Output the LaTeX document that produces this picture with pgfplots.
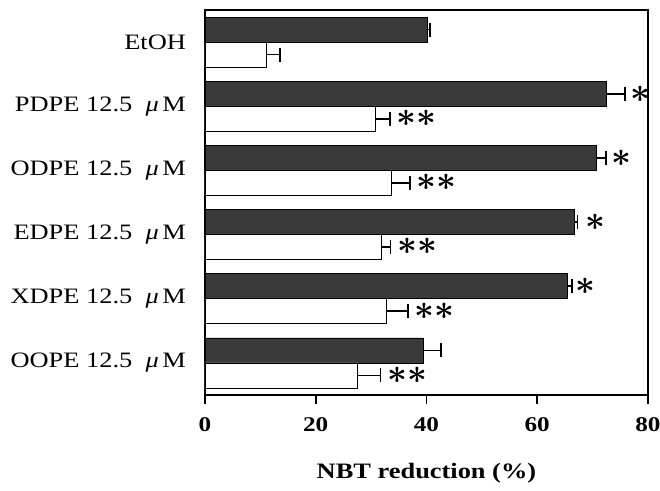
\documentclass[border=0pt]{standalone}
\usepackage{fontspec}
\setmainfont[FakeStretch=1.2]{Liberation Serif}
\usepackage{pgfplots}
\pgfplotsset{compat=1.18}
\usetikzlibrary{calc}
\definecolor{barDark}{RGB}{58,58,58}

\newcommand{\um}{12.5\ \ \textit{μ}\,M}
\newcommand{\st}{{\fontsize{17}{17}\selectfont\boldmath$\ast$}}
\newcommand{\dst}{{\fontsize{17}{17}\selectfont\boldmath${\ast}{\ast}$}}

\begin{document}
\begin{tikzpicture}
\begin{axis}[
  name=ax,
  scale only axis,
  width=221.5pt,height=192.5pt,
  xbar,bar width=12.5pt,
  xmin=0,xmax=80,ymin=-0.5,ymax=5.5,
  xtick={0,20,40,60,80},
  xticklabels={\textbf{0},\textbf{20},\textbf{40},\textbf{60},\textbf{80}},
  ytick={0,1,2,3,4,5},
  yticklabels={OOPE \um,XDPE \um,EDPE \um,ODPE \um,PDPE \um,EtOH},
  xtick pos=bottom,ytick pos=left,
  tick align=outside,
  major tick length=4.5pt,
  x tick style={draw=black,line width=0.8pt},
  y tick style={draw=none},
  y tick label style={font=\fontsize{11}{13}\selectfont,xshift=-1.5pt},
  x tick label style={font=\fontsize{10.5}{12}\selectfont,yshift=-3pt},
  xlabel={\textbf{NBT reduction (\%)}},
  xlabel style={font=\fontsize{11}{12}\selectfont,yshift=-9pt},
  axis line style={line width=0.9pt},
  error bars/error bar style={line width=0.8pt,black},
  error bars/error mark=|,
  error bars/error mark options={black,mark size=3.5pt,line width=0.8pt},
]
% dark bars
\addplot[draw=black,fill=barDark,bar shift=6.25pt,
  error bars/.cd,x dir=plus,x explicit] coordinates {
(40.2,5) +- (0.4,0)
(72.4,4) +- (3.4,0)
(70.6,3) +- (1.8,0)
(66.8,2) +- (0.5,0)
(65.5,1) +- (0.8,0)
(39.4,0) +- (3.2,0)};
% white bars
\addplot[draw=black,fill=white,bar shift=-6.25pt,
  error bars/.cd,x dir=plus,x explicit] coordinates {
(11.1,5) +- (2.4,0)
(30.8,4) +- (2.6,0)
(33.7,3) +- (3.3,0)
(31.8,2) +- (1.7,0)
(32.8,1) +- (3.9,0)
(27.6,0) +- (4.1,0)};

\node[anchor=west,inner sep=0pt] at (axis cs:76.8,4.19) {\st};
\node[anchor=west,inner sep=0pt] at (axis cs:73.4,3.19) {\st};
\node[anchor=west,inner sep=0pt] at (axis cs:68.6,2.19) {\st};
\node[anchor=west,inner sep=0pt] at (axis cs:66.8,1.19) {\st};
\node[anchor=west,inner sep=0pt] at (axis cs:34.6,3.81) {\dst};
\node[anchor=west,inner sep=0pt] at (axis cs:38.2,2.81) {\dst};
\node[anchor=west,inner sep=0pt] at (axis cs:34.7,1.81) {\dst};
\node[anchor=west,inner sep=0pt] at (axis cs:37.8,0.81) {\dst};
\node[anchor=west,inner sep=0pt] at (axis cs:32.9,-0.19) {\dst};
\end{axis}
\pgfresetboundingbox
\path[use as bounding box] ($(ax.south west)+(-102.5pt,-48pt)$) rectangle ($(ax.south west)+(227.5pt,197.5pt)$);
\end{tikzpicture}
\end{document}
